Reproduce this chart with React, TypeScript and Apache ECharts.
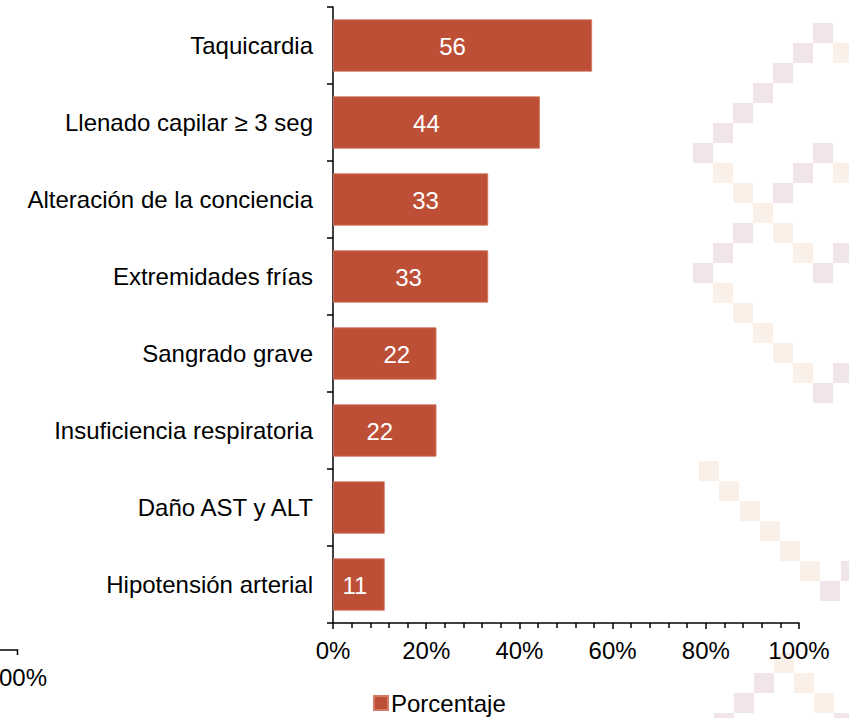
import React, { useEffect, useRef } from "react";
import * as echarts from "echarts";

const categories = [
  "Taquicardia",
  "Llenado capilar ≥ 3 seg",
  "Alteración de la conciencia",
  "Extremidades frías",
  "Sangrado grave",
  "Insuficiencia respiratoria",
  "Daño AST y ALT",
  "Hipotensión arterial",
];
const porcentaje = [55.6, 44.4, 33.3, 33.3, 22.2, 22.2, 11.1, 11.1];
const valueLabels = ["56", "44", "33", "33", "22", "22", "", "11"];
const xTicks = ["0%", "20%", "40%", "60%", "80%", "100%"];
const seriesName = "Porcentaje";

// label horizontal shifts (style only)
const labelShift = [-10, -10, 15, -2, 12, -5, 0, -4];

const PINK = "#f1e5e9";
const PEACH = "#faf0e8";
const pinkSquares = [
  [813, 23], [793, 43], [773, 63], [753, 83], [733, 103], [713, 123], [693, 143], [813, 143],
  [793, 163], [773, 183], [733, 223], [713, 243], [833, 243], [693, 263], [813, 263],
  [833, 363], [813, 383], [841, 561], [820, 581], [754, 673], [734, 693], [714, 713], [834, 713],
];
const peachSquares = [
  [833, 43], [713, 163], [833, 163], [733, 183], [753, 203], [773, 223], [793, 243],
  [713, 283], [733, 303], [753, 323], [773, 343], [793, 363],
  [699, 461], [719, 481], [740, 501], [760, 521], [780, 541], [800, 561],
  [774, 653], [794, 673], [814, 693],
];

export default function App() {
  const ref = useRef<HTMLDivElement>(null);
  useEffect(() => {
    if (!ref.current) return;
    document.body.style.margin = "0";
    const chart = echarts.init(ref.current, null, { renderer: "svg" });
    const font = "Liberation Sans, Arial, sans-serif";
    const fs = 24;
    const bg: any[] = [];
    pinkSquares.forEach(([x, y]) =>
      bg.push({ type: "rect", z: -10, silent: true, shape: { x, y, width: 20, height: 20 }, style: { fill: PINK } })
    );
    peachSquares.forEach(([x, y]) =>
      bg.push({ type: "rect", z: -10, silent: true, shape: { x, y, width: 20, height: 20 }, style: { fill: PEACH } })
    );
    bg.push({
      type: "polyline",
      z: 1,
      silent: true,
      shape: { points: [[0, 650], [17.5, 650], [17.5, 655]] },
      style: { stroke: "#000", lineWidth: 1.5, fill: null },
    });
    bg.push({
      type: "text",
      z: 1,
      x: -1,
      y: 665,
      style: { text: "00%", font: `${fs}px ${font}`, fill: "#000" },
    });

    chart.setOption({
      animation: false,
      backgroundColor: "#ffffff",
      textStyle: { fontFamily: font },
      graphic: bg,
      grid: { left: 333, right: 50, top: 7, bottom: 95, containLabel: false },
      legend: {
        data: [seriesName],
        left: 373,
        top: 690,
        padding: 0,
        icon: "rect",
        itemWidth: 14,
        itemHeight: 14,
        itemGap: 4,
        textStyle: { fontSize: fs, lineHeight: 26, color: "#000", fontFamily: font, padding: [0, 0, 0, -2] },
      },
      xAxis: {
        type: "value",
        min: 0,
        max: 100,
        interval: 20,
        axisLine: { show: true, lineStyle: { color: "#000", width: 1.5 } },
        axisTick: { show: true, length: 6, lineStyle: { color: "#000", width: 1.5 } },
        minorTick: { show: true, splitNumber: 5, length: 5, lineStyle: { color: "#000", width: 1.5 } },
        splitLine: { show: false },
        axisLabel: {
          margin: 15,
          fontSize: fs,
          color: "#000",
          fontFamily: font,
          formatter: (v: number) => xTicks[Math.round(v / 20)] ?? "",
        },
      },
      yAxis: {
        type: "category",
        data: categories,
        inverse: true,
        axisLine: { show: true, lineStyle: { color: "#000", width: 1.5 } },
        axisTick: { show: true, length: 6, lineStyle: { color: "#000", width: 1.5 } },
        axisLabel: { margin: 20, fontSize: fs, color: "#000", fontFamily: font },
      },
      series: [
        {
          name: seriesName,
          type: "bar",
          barCategoryGap: "32%",
          itemStyle: { color: "#be4f37", borderColor: "#d47a66", borderWidth: 0.8 },
          data: porcentaje.map((v, i) => ({
            value: v,
            label: {
              show: valueLabels[i] !== "",
              position: "inside",
              offset: [labelShift[i], 1],
              formatter: () => valueLabels[i],
              color: "#fff",
              fontSize: fs,
              fontFamily: font,
            },
          })),
        },
      ],
    });
    return () => chart.dispose();
  }, []);
  return <div ref={ref} style={{ width: 849, height: 718 }} />;
}
